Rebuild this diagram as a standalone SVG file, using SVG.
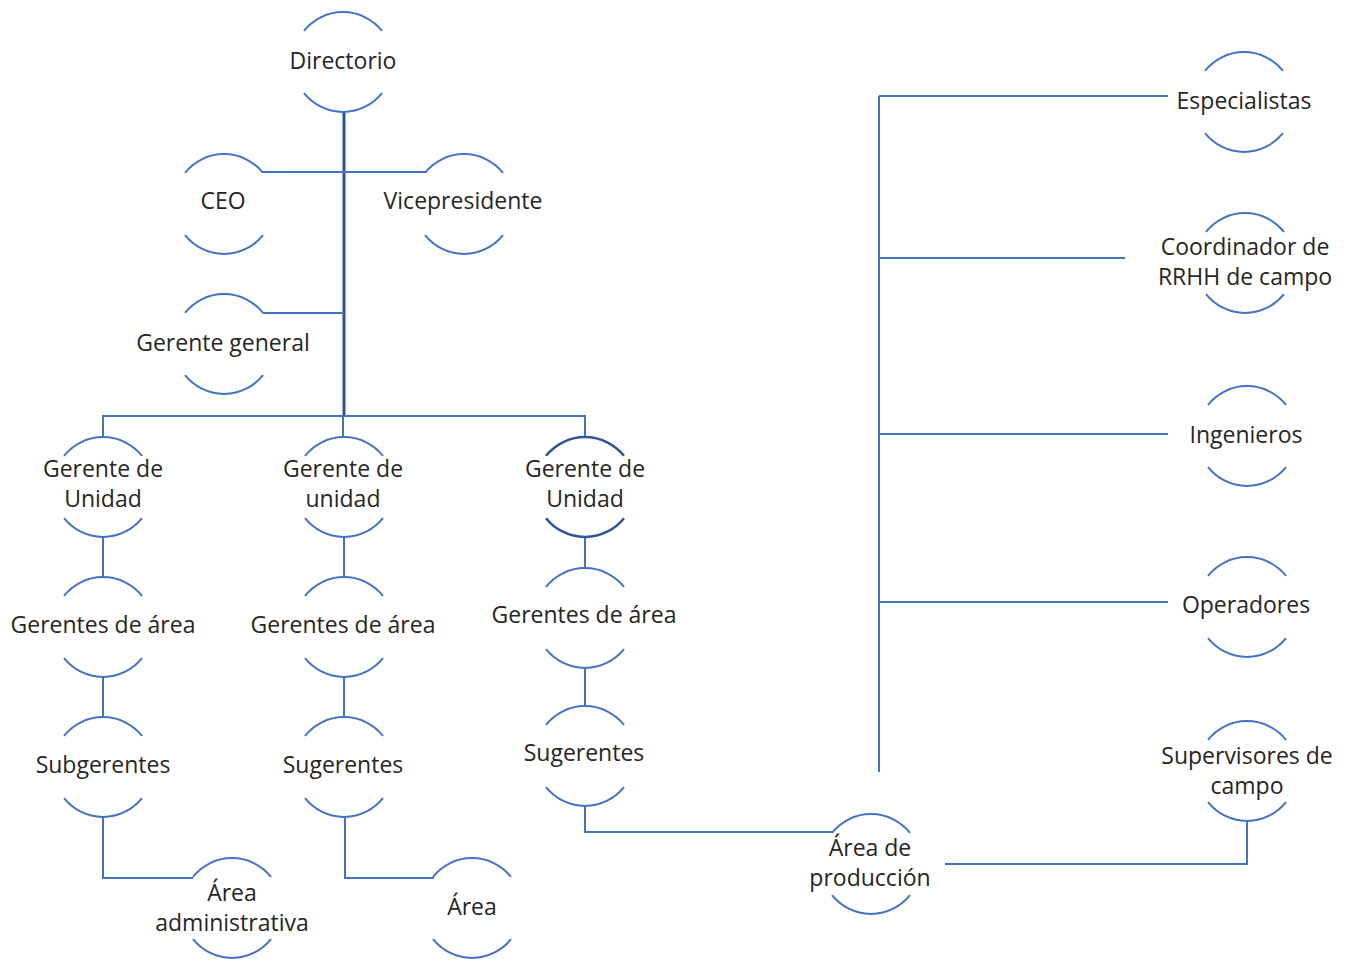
<svg xmlns="http://www.w3.org/2000/svg" xmlns:xlink="http://www.w3.org/1999/xlink" width="1346" height="960" viewBox="0 0 1346 960">
<style>
text{font-family:"Open Sans","Noto Sans","Liberation Sans",sans-serif;font-size:23px;fill:#262626;text-anchor:middle;dominant-baseline:central}
.ln{fill:none;stroke:#4472C4;stroke-width:2}
.trunk{fill:none;stroke:#2F5597;stroke-width:3}
</style>
<defs>
<g id="ring" fill="none" stroke="#4472C4" stroke-width="2">
<path d="M-39,-31.2 A50,50 0 0 1 39,-31.2"/>
<path d="M-39,31.2 A50,50 0 0 0 39,31.2"/>
</g>
<g id="ringd" fill="none" stroke="#2F5597" stroke-width="2.5">
<path d="M-39,-31.2 A50,50 0 0 1 39,-31.2"/>
<path d="M-39,31.2 A50,50 0 0 0 39,31.2"/>
</g>
</defs>
<rect width="1346" height="960" fill="#fff"/>
<g id="connectors">
<path class="trunk" d="M344,111 V416"/>
<path class="ln" d="M262,172 H427"/>
<path class="ln" d="M263,313 H344"/>
<path class="ln" d="M103,437 V416 H585 V437 M343,416 V437"/>
<path class="ln" d="M103,536 V577 M103,676 V717 M103,817 V878 H193"/>
<path class="ln" d="M344,536 V577 M344,676 V717 M345,817 V878 H434"/>
<path class="ln" d="M585,536 V568 M585,667 V706 M585,806 V832 H833"/>
<path class="ln" d="M945,864 H1247 V822"/>
<path class="ln" d="M879,96 V772 M879,96 H1168 M879,258 H1125 M879,434 H1168 M879,602 H1168"/>
</g>
<g id="n-directorio"><use href="#ring" x="343" y="62"/><text x="343" y="60">Directorio</text></g>
<g id="n-ceo"><use href="#ring" x="224" y="204"/><text x="223" y="200">CEO</text></g>
<g id="n-vice"><use href="#ring" x="464" y="204"/><text x="463" y="200">Vicepresidente</text></g>
<g id="n-gg"><use href="#ring" x="224" y="344"/><text x="223" y="342">Gerente general</text></g>
<g id="n-gu1"><use href="#ring" x="103" y="487"/><text x="103" y="468">Gerente de</text><text x="103" y="498">Unidad</text></g>
<g id="n-gu2"><use href="#ring" x="344" y="487"/><text x="343" y="468">Gerente de</text><text x="343" y="498">unidad</text></g>
<g id="n-gu3"><use href="#ringd" x="585" y="487"/><text x="585" y="468">Gerente de</text><text x="585" y="498">Unidad</text></g>
<g id="n-ga1"><use href="#ring" x="103" y="627"/><text x="103" y="624">Gerentes de área</text></g>
<g id="n-ga2"><use href="#ring" x="344" y="627"/><text x="343" y="624">Gerentes de área</text></g>
<g id="n-ga3"><use href="#ring" x="585" y="618"/><text x="584" y="614">Gerentes de área</text></g>
<g id="n-sg1"><use href="#ring" x="103" y="767"/><text x="103" y="764">Subgerentes</text></g>
<g id="n-sg2"><use href="#ring" x="344" y="767"/><text x="343" y="764">Sugerentes</text></g>
<g id="n-sg3"><use href="#ring" x="585" y="756"/><text x="584" y="752">Sugerentes</text></g>
<g id="n-aadm"><use href="#ring" x="232" y="908"/><text x="232" y="892">Área</text><text x="232" y="922">administrativa</text></g>
<g id="n-area"><use href="#ring" x="472" y="908"/><text x="472" y="906">Área</text></g>
<g id="n-aprod"><use href="#ring" x="871" y="864"/><text x="870" y="847">Área de</text><text x="870" y="877">producción</text></g>
<g id="n-esp"><use href="#ring" x="1244" y="102"/><text x="1244" y="100">Especialistas</text></g>
<g id="n-coord"><use href="#ring" x="1245" y="263"/><text x="1245" y="246">Coordinador de</text><text x="1245" y="276">RRHH de campo</text></g>
<g id="n-ing"><use href="#ring" x="1247" y="436"/><text x="1246" y="434">Ingenieros</text></g>
<g id="n-op"><use href="#ring" x="1247" y="607"/><text x="1246" y="604">Operadores</text></g>
<g id="n-sup"><use href="#ring" x="1247" y="771"/><text x="1247" y="755">Supervisores de</text><text x="1247" y="785">campo</text></g>
</svg>
